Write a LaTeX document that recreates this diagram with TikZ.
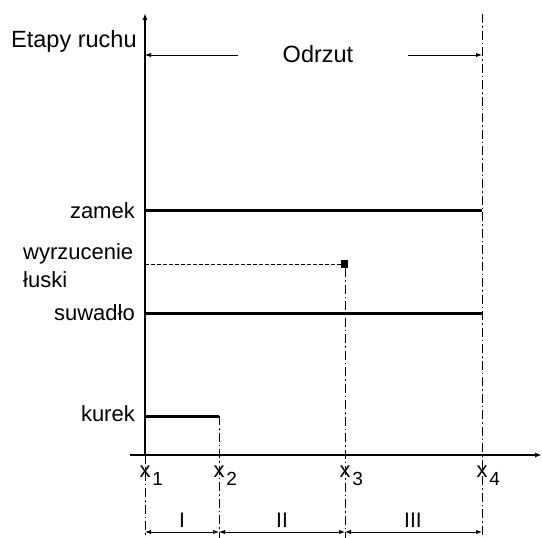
\documentclass[tikz,border=0pt]{standalone}
\usepackage{fontspec}
\setmainfont{Liberation Sans}
\usetikzlibrary{arrows.meta}
\begin{document}
\begin{tikzpicture}[x=1pt,y=-1pt,
  axis/.style={line width=1.5pt,-{Latex[length=7pt,width=5pt]}},
  thin arrow/.style={line width=1pt,-{Latex[length=6pt,width=4.5pt]}},
  bar/.style={line width=3pt},
  guide/.style={line width=0.8pt,dash pattern=on 9pt off 3pt on 1.5pt off 3pt},
  hint/.style={line width=1pt,dash pattern=on 3.5pt off 2.5pt},
  dim/.style={line width=1pt,{Latex[length=6pt,width=4.5pt]}-{Latex[length=6pt,width=4.5pt]}},
  title/.style={font=\fontsize{23.5}{28}\selectfont,inner sep=0pt},
  lbl/.style={font=\fontsize{22}{26}\selectfont,inner sep=0pt},
  xlbl/.style={font=\fontsize{22}{24}\selectfont,inner sep=0pt,anchor=base},
  sub/.style={font=\fontsize{19}{22}\selectfont,inner sep=0pt,anchor=base west},
  stage/.style={font=\fontsize{21}{24}\selectfont,inner sep=0pt,anchor=base}
]
\useasboundingbox (0,0) rectangle (542,538);

% axis points and stage boundaries
\coordinate (O) at (145,455);
\coordinate (ytop) at (145,13);
\coordinate (xl) at (130,455);
\coordinate (xr) at (542,455);
\coordinate (x1) at (145,455);
\coordinate (x2) at (219,455);
\coordinate (x3) at (345,455);
\coordinate (x4) at (482,455);
\coordinate (b1) at (145,538);
\coordinate (b2) at (219,538);
\coordinate (b3) at (345,538);
\coordinate (b4) at (482,538);
\coordinate (t4) at (482,14);

% motion bars
\coordinate (zA) at (145,210);  \coordinate (zB) at (482,210);
\coordinate (sA) at (145,313);  \coordinate (sB) at (482,313);
\coordinate (kA) at (145,416);  \coordinate (kB) at (219,416);
\coordinate (wA) at (145,264);
\node[fill,minimum width=7pt,minimum height=8pt,inner sep=0pt] (ej) at (344.5,264) {};

% guide lines
\draw[guide] (x1) -- (b1);
\draw[guide] (kB) -- (b2);
\draw[guide] (ej.south -| x3) -- (b3);
\draw[guide] (t4) -- (b4);

% axes
\draw[axis] (xl) -- (xr);
\draw[axis] (O) -- (ytop);

% bars
\draw[bar] (zA) -- (zB);
\draw[bar] (sA) -- (sB);
\draw[bar] (kA) -- (kB);
\draw[hint] (wA) -- (ej.west);

% titles
\node[title,anchor=base west] (etapy) at (11,48) {Etapy ruchu};
\node[title,anchor=base] (odrzut) at (318,62) {Odrzut};
\coordinate (oL) at (145,55);
\coordinate (oR) at (482,55);
\draw[thin arrow] (238,55) coordinate (oLs) -- (oL);
\draw[thin arrow] (408,55) coordinate (oRs) -- (oR);

% row labels
\node[lbl,anchor=base east] (lz) at (135,218) {zamek};
\node[lbl,anchor=base west] (lw) at (23,259.5) {wyrzucenie};
\node[lbl,anchor=base west] (ll) at (23,287) {łuski};
\node[lbl,anchor=base east] (ls) at (135,320) {suwadło};
\node[lbl,anchor=base east] (lk) at (135,421) {kurek};

% axis labels
\foreach \i/\xx in {1/145,2/219,3/345,4/482}{
  \node[xlbl] (xn\i) at (\xx,477) {x};
  \node[sub] (xs\i) at ([xshift=1.5pt,yshift=-8pt]xn\i.base east) {\i};
}

% stage intervals
\coordinate (d1) at (145,532);
\coordinate (d2) at (219,532);
\coordinate (d3) at (345,532);
\coordinate (d4) at (482,532);
\draw[dim] (d1) -- (d2);
\draw[dim] (d2) -- (d3);
\draw[dim] (d3) -- (d4);
\node[stage] (s1) at (182,527) {I};
\node[stage] (s2) at (282,527) {II};
\node[stage] (s3) at (413,527) {III};
\end{tikzpicture}
\end{document}
